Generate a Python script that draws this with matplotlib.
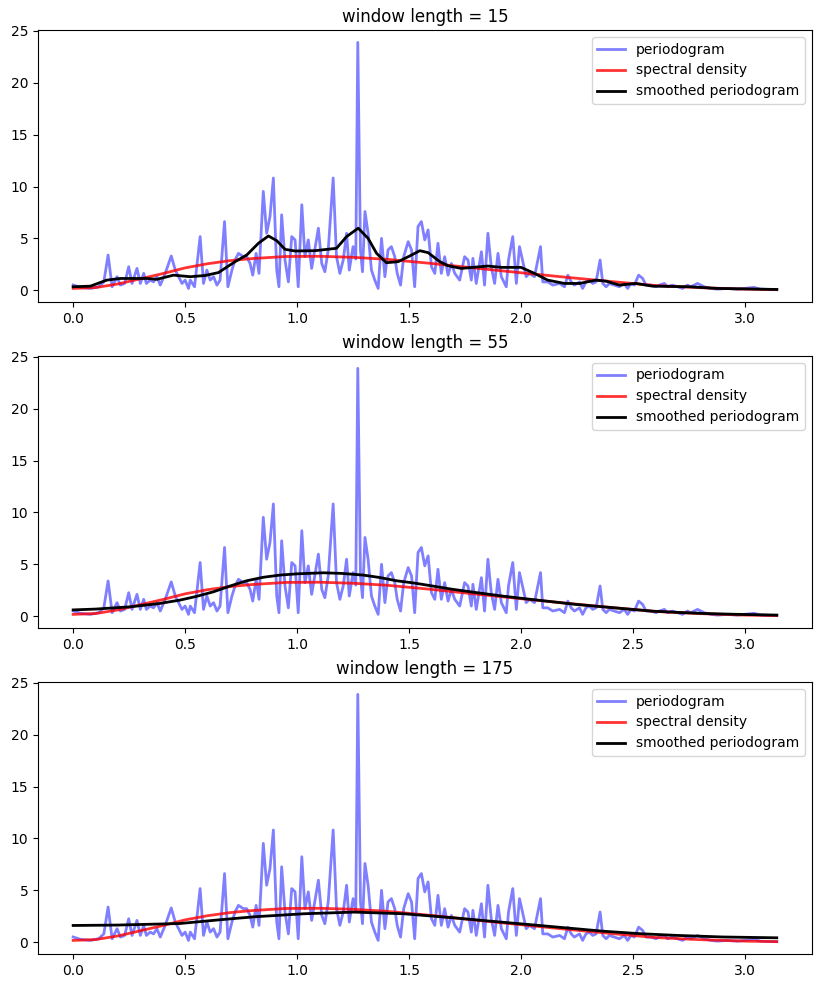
import matplotlib
matplotlib.use("Agg")
import matplotlib.pyplot as plt

# periodogram (same in every panel)
freq = [0.000, 0.033, 0.077, 0.114, 0.137, 0.156, 0.174, 0.196, 0.211, 0.230,
        0.248, 0.263, 0.285, 0.300, 0.315, 0.327, 0.344, 0.359, 0.374, 0.389,
        0.411, 0.438, 0.456, 0.471, 0.486, 0.500, 0.515, 0.523, 0.542, 0.567,
        0.582, 0.597, 0.612, 0.627, 0.642, 0.656, 0.676, 0.691, 0.709, 0.723,
        0.738, 0.760, 0.775, 0.790, 0.802, 0.817, 0.830, 0.849, 0.864, 0.879,
        0.894, 0.909, 0.919, 0.931, 0.946, 0.961, 0.976, 0.991, 1.005, 1.021,
        1.035, 1.050, 1.065, 1.095, 1.110, 1.124, 1.139, 1.161, 1.176, 1.191,
        1.206, 1.221, 1.233, 1.250, 1.262, 1.271, 1.283, 1.292, 1.303, 1.317,
        1.332, 1.347, 1.362, 1.377, 1.392, 1.406, 1.421, 1.436, 1.447, 1.462,
        1.476, 1.496, 1.511, 1.525, 1.540, 1.555, 1.570, 1.585, 1.600, 1.615,
        1.629, 1.644, 1.659, 1.674, 1.689, 1.704, 1.726, 1.748, 1.763, 1.778,
        1.785, 1.800, 1.823, 1.837, 1.852, 1.867, 1.882, 1.897, 1.912, 1.934,
        1.944, 1.963, 1.979, 1.993, 2.008, 2.023, 2.038, 2.060, 2.087, 2.097,
        2.119, 2.142, 2.172, 2.194, 2.209, 2.224, 2.238, 2.261, 2.275, 2.290,
        2.305, 2.320, 2.335, 2.353, 2.365, 2.380, 2.394, 2.417, 2.439, 2.461,
        2.476, 2.491, 2.506, 2.525, 2.543, 2.558, 2.580, 2.603, 2.617, 2.640,
        2.654, 2.676, 2.699, 2.721, 2.743, 2.758, 2.788, 2.818, 2.848, 2.877,
        2.922, 2.966, 3.040, 3.070, 3.142]
pgram = [0.50, 0.27, 0.17, 0.33, 0.80, 3.39, 0.33, 1.30, 0.49, 0.65,
         2.26, 0.65, 2.10, 0.65, 1.62, 0.65, 0.97, 0.80, 1.30, 0.49,
         1.62, 3.30, 1.94, 1.30, 0.65, 0.97, 0.17, 0.97, 0.33, 5.17,
         0.65, 1.94, 0.97, 1.30, 0.49, 0.97, 6.62, 0.33, 1.94, 2.91,
         3.55, 3.23, 3.23, 2.58, 1.45, 3.55, 1.62, 9.53, 5.49, 7.11,
         10.82, 1.94, 0.33, 7.27, 2.91, 0.80, 5.17, 4.85, 0.33, 8.24,
         3.23, 4.85, 2.10, 5.98, 2.58, 1.78, 3.88, 10.82, 3.23, 1.62,
         2.91, 5.49, 1.94, 4.20, 3.00, 23.90, 3.88, 1.78, 7.59, 5.49,
         1.94, 0.97, 0.17, 5.00, 1.30, 3.88, 4.20, 3.23, 1.62, 0.49,
         3.23, 4.68, 3.88, 0.33, 6.14, 6.62, 4.85, 5.81, 2.26, 1.62,
         4.52, 1.62, 3.23, 1.45, 2.58, 1.62, 0.97, 3.23, 2.91, 0.97,
         3.07, 0.65, 3.71, 0.49, 5.49, 2.26, 0.65, 3.55, 1.30, 0.33,
         2.91, 5.17, 0.65, 4.20, 2.75, 1.30, 1.62, 1.30, 4.20, 0.80,
         0.80, 0.49, 0.65, 0.33, 1.45, 0.80, 0.49, 0.80, 0.17, 0.80,
         0.97, 0.65, 0.80, 2.91, 0.65, 0.33, 0.65, 0.49, 0.33, 0.65,
         0.17, 0.65, 0.49, 1.45, 1.13, 0.49, 0.49, 0.33, 0.49, 0.65,
         0.33, 0.49, 0.33, 0.17, 0.49, 0.33, 0.65, 0.33, 0.17, 0.10,
         0.17, 0.10, 0.27, 0.10, 0.05]

# true spectral density
dens_x = [0, 0.1, 0.2, 0.3, 0.4, 0.5, 0.6, 0.7, 0.8, 0.95, 1.1, 1.25, 1.4,
          1.6, 1.8, 2.0, 2.2, 2.4, 2.6, 2.8, 3.0, 3.1416]
dens_y = [0.17, 0.25, 0.6, 1.1, 1.6, 2.15, 2.55, 2.85, 3.05, 3.25, 3.27, 3.17,
          2.98, 2.58, 2.12, 1.68, 1.25, 0.84, 0.45, 0.24, 0.10, 0.05]

# smoothed periodograms
smooth15_x = [0, 0.077, 0.15, 0.21, 0.33, 0.374, 0.448, 0.523, 0.59, 0.649,
              0.723, 0.775, 0.827, 0.872, 0.909, 0.946, 0.991, 1.08, 1.176,
              1.221, 1.273, 1.317, 1.355, 1.399, 1.451, 1.503, 1.548, 1.585,
              1.637, 1.674, 1.733, 1.852, 1.912, 2.0, 2.06, 2.119, 2.194,
              2.261, 2.335, 2.38, 2.439, 2.513, 2.587, 2.751, 2.877, 3.142]
smooth15_y = [0.33, 0.39, 0.97, 1.13, 1.13, 1.05, 1.45, 1.30, 1.42, 1.70,
              2.75, 3.39, 4.52, 5.23, 4.78, 3.94, 3.78, 3.81, 4.04,
              5.17, 5.98, 5.00, 3.55, 2.65, 2.75, 3.30, 3.81, 3.62,
              2.75, 2.36, 2.10, 2.33, 2.20, 2.20, 1.62, 0.97, 0.65,
              0.65, 0.97, 0.87, 0.49, 0.65, 0.39, 0.33, 0.17, 0.07]

smooth55_x = [0, 0.1, 0.255, 0.38, 0.478, 0.55, 0.627, 0.7, 0.775, 0.85,
              0.924, 1.0, 1.117, 1.2, 1.295, 1.37, 1.444, 1.52, 1.592, 1.696,
              1.8, 1.919, 2.03, 2.142, 2.25, 2.365, 2.48, 2.587, 2.7, 2.81,
              2.95, 3.142]
smooth55_y = [0.60, 0.68, 0.90, 1.20, 1.55, 1.90, 2.35, 2.90, 3.41, 3.75,
              3.96, 4.08, 4.18, 4.12, 3.96, 3.72, 3.41, 3.20, 2.95, 2.58,
              2.27, 1.93, 1.65, 1.38, 1.12, 0.90, 0.68, 0.48, 0.36, 0.26,
              0.18, 0.10]

smooth175_x = [0, 0.2, 0.477, 0.65, 0.81, 1.03, 1.254, 1.476, 1.698, 1.85,
               2.03, 2.2, 2.365, 2.53, 2.698, 2.9, 3.142]
smooth175_y = [1.61, 1.65, 1.80, 2.15, 2.45, 2.74, 2.90, 2.74, 2.35, 2.05,
               1.71, 1.38, 1.06, 0.82, 0.65, 0.50, 0.42]

windows = [15, 55, 175]
smoothed = [(smooth15_x, smooth15_y), (smooth55_x, smooth55_y),
            (smooth175_x, smooth175_y)]


def plot_panel(ax, window, sx, sy):
    ax.plot(freq, pgram, color='b', alpha=0.5, lw=2, label='periodogram')
    ax.plot(dens_x, dens_y, color='r', alpha=0.8, lw=2, label='spectral density')
    ax.plot(sx, sy, color='k', lw=2, label='smoothed periodogram')
    ax.set_title(f'window length = {window}')
    ax.legend(loc='upper right')


fig = plt.figure(figsize=(8.22, 9.88), dpi=100)
bottoms = [0.6943, 0.3644, 0.0344]
for b, w, (sx, sy) in zip(bottoms, windows, smoothed):
    ax = fig.add_axes([0.0462, b, 0.9416, 0.2753])
    plot_panel(ax, w, sx, sy)

fig.savefig('out.png', dpi=100)
